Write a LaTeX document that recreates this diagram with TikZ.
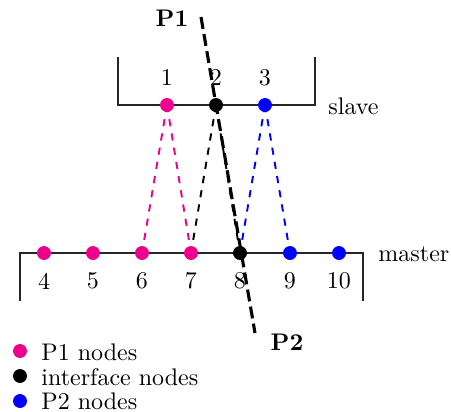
\documentclass[tikz,border=0pt]{standalone}
\usetikzlibrary{calc}
\definecolor{pone}{RGB}{236,0,140}
\definecolor{ptwo}{RGB}{0,0,255}
\begin{document}
\begin{tikzpicture}[x=0.41667pt,y=-0.41667pt,
  dot/.style={circle,inner sep=0pt,minimum size=5.8pt},
  pdot/.style={dot,fill=pone},
  idot/.style={dot,fill=black},
  qdot/.style={dot,fill=ptwo},
  num/.style={inner sep=0pt},
  frame/.style={line width=0.5pt,draw=black!85},
  link/.style={dashed,thick},
  cut/.style={line width=1.3pt,dash pattern=on 5pt off 2.2pt}]
\useasboundingbox (0,0) rectangle (451,412);
% frames
\draw[frame] (118,57) -- (118,105) -- (315,105) -- (315,57);
\draw[frame] (20,301) -- (20,253) -- (363,253) -- (363,301);
% node coordinates
\coordinate (s1) at (167,105);
\coordinate (s2) at (216,105);
\coordinate (s3) at (265,105);
\coordinate (m4) at (44,253);
\coordinate (m5) at (93,253);
\coordinate (m6) at (142,253);
\coordinate (m7) at (191,253);
\coordinate (m8) at (240,253);
\coordinate (m9) at (290,253);
\coordinate (m10) at (339,253);
% connectors
\draw[link,pone] (s1) -- (m6);
\draw[link,pone] (s1) -- (m7);
\draw[link,black] (s2) -- (m7);
\draw[link,black] (s2) -- (m8);
\draw[link,ptwo] (s3) -- (m8);
\draw[link,ptwo] (s3) -- (m9);
% dots
\node[pdot] (n1) at (s1) {};
\node[idot] (n2) at (s2) {};
\node[qdot] (n3) at (s3) {};
\node[pdot] (n4) at (m4) {};
\node[pdot] (n5) at (m5) {};
\node[pdot] (n6) at (m6) {};
\node[pdot] (n7) at (m7) {};
\node[idot] (n8) at (m8) {};
\node[qdot] (n9) at (m9) {};
\node[qdot] (n10) at (m10) {};
% numbers
\node[num] (l1) at (167,78) {1};
\node[num] (l2) at (216,78) {2};
\node[num] (l3) at (265,78) {3};
\node[num] (l4) at (44,281) {4};
\node[num] (l5) at (93,281) {5};
\node[num] (l6) at (142,281) {6};
\node[num] (l7) at (191,281) {7};
\node[num] (l8) at (240,281) {8};
\node[num] (l9) at (290,281) {9};
\node[num] (l10) at (339,281) {10};
\node[num,anchor=west] (slave) at (328,106) {slave};
\node[num,anchor=west] (master) at (378,254) {master};
% cut line
\coordinate (c1) at (201,17);
\coordinate (c2) at (255,333);
\draw[cut] (c1) -- (c2);
\node[num] (P1) at (172,18) {\textbf{P1}};
\node[num] (P2) at (287,342) {\textbf{P2}};
% legend
\node[pdot] (g1) at (20,351) {};
\node[idot] (g2) at (20,376) {};
\node[qdot] (g3) at (20,401) {};
\node[num,anchor=west] (t1) at (41,352) {P1 nodes};
\node[num,anchor=west] (t2) at (41,377) {interface nodes};
\node[num,anchor=west] (t3) at (41,401) {P2 nodes};
\end{tikzpicture}
\end{document}
